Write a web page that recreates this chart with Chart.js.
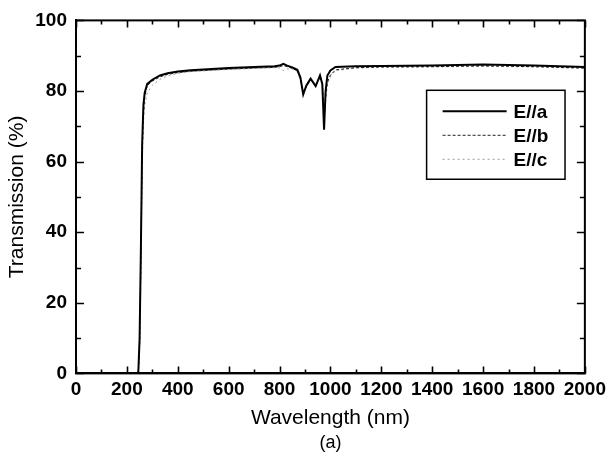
<!DOCTYPE html>
<html>
<head>
<meta charset="utf-8">
<script src="https://cdn.jsdelivr.net/npm/chart.js@4.4.1/dist/chart.umd.min.js"></script>
<style>
html,body{margin:0;padding:0;background:#fff;}
#wrap{width:611px;height:465px;position:relative;}
</style>
</head>
<body>
<div id="wrap"><canvas id="c" width="611" height="465"></canvas></div>
<script>
// ---- data ----
const wavelength = [200, 240, 245, 250, 255, 260, 265, 270, 280, 300, 330, 360, 400, 450, 500, 600, 700, 780, 800, 815, 830, 850, 870, 882, 893, 905, 922, 942, 959, 968, 975, 981, 988, 1000, 1020, 1100, 1200, 1400, 1600, 1800, 2000];
const transEa = [0, 0, 0.5, 10, 35, 65, 76, 79.5, 82, 83.2, 84.4, 85, 85.5, 85.9, 86.1, 86.5, 86.8, 87, 87.2, 87.7, 87.2, 86.7, 86.0, 83.8, 79, 81.5, 83.5, 81.4, 84.4, 82, 69, 80, 84.4, 85.8, 86.8, 87, 87.1, 87.2, 87.5, 87.2, 86.8];
const transEb = [0, 0, 0.3, 8, 32, 62, 74, 78.5, 81.5, 82.8, 84, 84.7, 85.2, 85.6, 85.8, 86.2, 86.5, 86.7, 86.9, 87.2, 86.9, 86.4, 85.7, 83.5, 79.5, 81.2, 83.2, 81.5, 84, 82.5, 72, 78, 82.5, 84.5, 86, 86.6, 86.8, 86.9, 87.1, 86.9, 86.5];
const transEc = [0, 0, 0.2, 6, 28, 58, 71, 76, 79.5, 81.6, 83.3, 84.3, 85, 85.5, 85.7, 86.1, 86.4, 86.6, 86.5, 85.8, 86.3, 86.2, 85.5, 83.2, 80, 81, 83, 81.8, 83.8, 82.8, 74, 77, 82, 84, 85.8, 86.5, 86.7, 86.8, 87, 86.8, 86.4];
const seriesLabels = ['E//a', 'E//b', 'E//c'];
const xTicks = [0, 200, 400, 600, 800, 1000, 1200, 1400, 1600, 1800, 2000];
const yTicks = [0, 20, 40, 60, 80, 100];

const FONT = '"Liberation Sans", Arial, Helvetica, sans-serif';
const pts = arr => wavelength.map((w, i) => ({x: w, y: arr[i]}));

// inward ticks on all four sides + frame
const framePlugin = {
  id: 'frame',
  afterDatasetsDraw(chart) {
    const {ctx, chartArea: a, scales: {x, y}} = chart;
    ctx.save();
    ctx.strokeStyle = '#000';
    ctx.lineWidth = 2;
    ctx.strokeRect(a.left, a.top, a.right - a.left, a.bottom - a.top);
    ctx.lineWidth = 1.6;
    for (let v = x.min; v <= x.max; v += 100) {
      const px = Math.round(x.getPixelForValue(v)) + 0.5;
      const len = (v % 200 === 0) ? 7 : 4;
      ctx.beginPath();
      ctx.moveTo(px, a.bottom); ctx.lineTo(px, a.bottom - len);
      ctx.moveTo(px, a.top); ctx.lineTo(px, a.top + len);
      ctx.stroke();
    }
    for (let v = y.min; v <= y.max; v += 10) {
      const py = Math.round(y.getPixelForValue(v)) + 0.5;
      const len = (v % 20 === 0) ? 8 : 5;
      ctx.beginPath();
      ctx.moveTo(a.left, py); ctx.lineTo(a.left + len, py);
      ctx.moveTo(a.right, py); ctx.lineTo(a.right - len, py);
      ctx.stroke();
    }
    ctx.restore();
  }
};

// boxed legend inside the plot
const boxLegend = {
  id: 'boxLegend',
  afterDraw(chart) {
    const {ctx, chartArea: a} = chart;
    const left = a.left + (a.right - a.left) * 0.689;
    const right = a.left + (a.right - a.left) * 0.961;
    const top = a.top + (a.bottom - a.top) * 0.198;
    const bottom = a.top + (a.bottom - a.top) * 0.45;
    ctx.save();
    ctx.fillStyle = '#fff';
    ctx.fillRect(left, top, right - left, bottom - top);
    ctx.strokeStyle = '#000';
    ctx.lineWidth = 1.5;
    ctx.strokeRect(left, top, right - left, bottom - top);
    ctx.font = 'bold 19px ' + FONT;
    ctx.textBaseline = 'middle';
    ctx.fillStyle = '#000';
    chart.data.datasets.forEach((ds, i) => {
      const yy = top + 21 + i * 24;
      ctx.save();
      ctx.strokeStyle = ds.borderColor;
      ctx.lineWidth = ds.borderWidth;
      ctx.setLineDash(ds.borderDash || []);
      ctx.beginPath();
      ctx.moveTo(left + 16, yy); ctx.lineTo(left + 80, yy);
      ctx.stroke();
      ctx.restore();
      ctx.fillText(ds.label, left + 87, yy + 1);
    });
    ctx.restore();
  }
};

new Chart(document.getElementById('c'), {
  type: 'line',
  data: {
    datasets: [
      {label: seriesLabels[0], data: pts(transEa), borderColor: '#000', borderWidth: 2, pointRadius: 0, tension: 0},
      {label: seriesLabels[1], data: pts(transEb), borderColor: '#222', borderWidth: 1, borderDash: [3, 2], pointRadius: 0, tension: 0},
      {label: seriesLabels[2], data: pts(transEc), borderColor: '#9a9a9a', borderWidth: 1, borderDash: [2, 3], pointRadius: 0, tension: 0}
    ]
  },
  options: {
    responsive: false,
    animation: false,
    layout: {padding: {left: 0, right: 24, top: 16, bottom: 0}},
    plugins: {
      legend: {display: false},
      tooltip: {enabled: false},
      title: {
        display: true, position: 'bottom', fullSize: false, text: '(a)', color: '#000',
        font: {family: FONT, size: 18, weight: 'normal'},
        padding: {top: 2, bottom: 11}
      }
    },
    scales: {
      x: {
        type: 'linear', min: 0, max: 2000,
        afterBuildTicks: s => { s.ticks = xTicks.map(v => ({value: v})); },
        afterFit: s => { s.height = 57; },
        grid: {display: false, drawTicks: false},
        border: {display: true, color: '#000', width: 2},
        ticks: {color: '#000', font: {family: FONT, size: 19, weight: 'bold'}, padding: 5, maxRotation: 0, autoSkip: false,
                callback: v => String(v)},
        title: {display: true, text: 'Wavelength (nm)', color: '#000', font: {family: FONT, size: 21, weight: 'normal'}, padding: {top: 3, bottom: 0}}
      },
      y: {
        min: 0, max: 100,
        afterBuildTicks: s => { s.ticks = yTicks.map(v => ({value: v})); },
        afterFit: s => { s.width = 76; },
        grid: {display: false, drawTicks: false},
        border: {display: true, color: '#000', width: 2},
        ticks: {color: '#000', font: {family: FONT, size: 19, weight: 'bold'}, padding: 9, autoSkip: false,
                callback: v => String(v)},
        title: {display: true, text: 'Transmission (%)', color: '#000', font: {family: FONT, size: 21, weight: 'normal'}, padding: {top: 5, bottom: 0}}
      }
    }
  },
  plugins: [framePlugin, boxLegend]
});
</script>
</body>
</html>
